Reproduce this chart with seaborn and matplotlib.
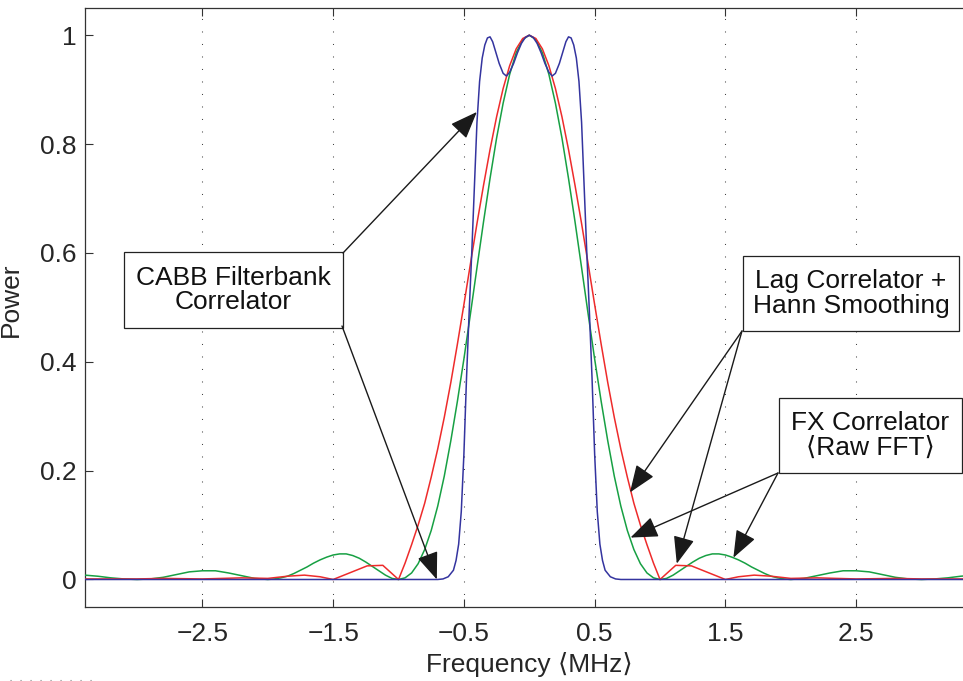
import matplotlib
matplotlib.use("Agg")
import matplotlib.pyplot as plt
import matplotlib.patches as mpatches
from matplotlib.lines import Line2D
import seaborn as sns

# FX correlator (raw FFT): frequency (MHz) and power
FX_FREQ = [-3.4, -3.3, -3.2, -3.1, -3.0, -2.9, -2.8, -2.7, -2.6, -2.5,
           -2.4, -2.3, -2.2, -2.1, -2.0,
           -1.95, -1.9, -1.85, -1.8, -1.75, -1.7, -1.65, -1.6, -1.55, -1.5,
           -1.45, -1.4, -1.35, -1.3, -1.25, -1.2, -1.15, -1.1, -1.05, -1.0,
           -0.95, -0.9, -0.85, -0.8, -0.75, -0.7, -0.65, -0.6, -0.55, -0.5,
           -0.45, -0.4, -0.35, -0.3, -0.25, -0.2, -0.15, -0.1, -0.05, 0.0,
           0.05, 0.1, 0.15, 0.2, 0.25, 0.3, 0.35, 0.4, 0.45, 0.5,
           0.55, 0.6, 0.65, 0.7, 0.75, 0.8, 0.85, 0.9, 0.95, 1.0,
           1.05, 1.1, 1.15, 1.2, 1.25, 1.3, 1.35, 1.4, 1.45, 1.5,
           1.55, 1.6, 1.65, 1.7, 1.75, 1.8, 1.85, 1.9, 1.95,
           2.0, 2.1, 2.2, 2.3, 2.4, 2.5, 2.6, 2.7, 2.8, 2.9,
           3.0, 3.1, 3.2, 3.3, 3.4]
FX_POWER = [0.008, 0.006, 0.003, 0.001, 0.000, 0.001, 0.004, 0.009, 0.014, 0.016,
            0.016, 0.012, 0.007, 0.002, 0.000,
            0.001, 0.003, 0.006, 0.011, 0.017, 0.023, 0.030, 0.036, 0.041, 0.045,
            0.047, 0.047, 0.044, 0.039, 0.032, 0.024, 0.016, 0.008, 0.002, 0.000,
            0.003, 0.012, 0.029, 0.055, 0.090, 0.135, 0.190, 0.255, 0.327, 0.405,
            0.488, 0.573, 0.657, 0.737, 0.811, 0.875, 0.928, 0.968, 0.992, 1.000,
            0.992, 0.968, 0.928, 0.875, 0.811, 0.737, 0.657, 0.573, 0.488, 0.405,
            0.327, 0.255, 0.190, 0.135, 0.090, 0.055, 0.029, 0.012, 0.003, 0.000,
            0.002, 0.008, 0.016, 0.024, 0.032, 0.039, 0.044, 0.047, 0.047, 0.045,
            0.041, 0.036, 0.030, 0.023, 0.017, 0.011, 0.006, 0.003, 0.001,
            0.000, 0.002, 0.007, 0.012, 0.016, 0.016, 0.014, 0.009, 0.004, 0.001,
            0.000, 0.001, 0.003, 0.006, 0.008]

# Lag correlator + Hann smoothing
LAG_FREQ = [-3.4, -3.0, -2.8, -2.5, -2.2, -2.0, -1.85, -1.72, -1.6, -1.5,
            -1.24, -1.12, -1.0, -0.95, -0.9, -0.85, -0.8, -0.75, -0.7, -0.65,
            -0.6, -0.55, -0.5, -0.45, -0.4, -0.35, -0.3, -0.25, -0.2, -0.15,
            -0.1, -0.05, 0.0, 0.05, 0.1, 0.15, 0.2, 0.25, 0.3, 0.35,
            0.4, 0.45, 0.5, 0.55, 0.6, 0.65, 0.7, 0.75, 0.8, 0.85,
            0.9, 0.95, 1.0, 1.12, 1.24, 1.5, 1.6, 1.72, 1.85, 2.0,
            2.2, 2.5, 2.8, 3.0, 3.4]
LAG_POWER = [0.001, 0.001, 0.002, 0.001, 0.003, 0.002, 0.006, 0.008, 0.005, 0.000,
             0.025, 0.026, 0.000, 0.030, 0.064, 0.100, 0.140, 0.188, 0.240, 0.298,
             0.362, 0.432, 0.505, 0.580, 0.654, 0.724, 0.790, 0.850, 0.902, 0.944,
             0.975, 0.994, 1.000, 0.994, 0.975, 0.944, 0.902, 0.850, 0.790, 0.724,
             0.654, 0.580, 0.505, 0.432, 0.362, 0.298, 0.240, 0.188, 0.140, 0.100,
             0.064, 0.030, 0.000, 0.026, 0.025, 0.000, 0.005, 0.008, 0.006, 0.002,
             0.003, 0.001, 0.002, 0.001, 0.001]

# CABB filterbank
CABB_FREQ = [-3.4, -0.7, -0.66, -0.62, -0.58, -0.56, -0.54, -0.52, -0.5, -0.48,
             -0.46, -0.44, -0.42, -0.4, -0.38, -0.36, -0.34, -0.32, -0.3, -0.28,
             -0.26, -0.23, -0.2, -0.175, -0.15, -0.12, -0.09, -0.06, -0.03, 0.0,
             0.03, 0.06, 0.09, 0.12, 0.15, 0.175, 0.2, 0.23, 0.26, 0.28,
             0.3, 0.32, 0.34, 0.36, 0.38, 0.4, 0.42, 0.44, 0.46, 0.48,
             0.5, 0.52, 0.54, 0.56, 0.58, 0.62, 0.66, 0.7, 3.4]
CABB_POWER = [0.0, 0.0, 0.001, 0.005, 0.017, 0.035, 0.065, 0.125, 0.23, 0.37,
              0.49, 0.60, 0.72, 0.84, 0.915, 0.958, 0.982, 0.995, 0.997, 0.988,
              0.972, 0.948, 0.93, 0.925, 0.932, 0.948, 0.968, 0.985, 0.996, 1.0,
              0.996, 0.985, 0.968, 0.948, 0.932, 0.925, 0.93, 0.948, 0.972, 0.988,
              0.997, 0.995, 0.982, 0.958, 0.915, 0.84, 0.72, 0.60, 0.49, 0.37,
              0.23, 0.125, 0.065, 0.035, 0.017, 0.005, 0.001, 0.0, 0.0]

X_TICKS = [-2.5, -1.5, -0.5, 0.5, 1.5, 2.5]
X_TICK_LABELS = ["\u22122.5", "\u22121.5", "\u22120.5", "0.5", "1.5", "2.5"]
Y_TICKS = [0, 0.2, 0.4, 0.6, 0.8, 1.0]
Y_TICK_LABELS = ["0", "0.2", "0.4", "0.6", "0.8", "1"]

sns.set_theme(style="ticks")
plt.rcParams["font.family"] = ["Liberation Sans", "DejaVu Sans"]
plt.rcParams["font.size"] = 19

W, H = 963, 681
fig = plt.figure(figsize=(W / 100, H / 100), dpi=100)
ax = fig.add_axes([84.7 / W, 1 - 606.7 / H, (W - 84.7) / W, (606.7 - 8) / H])

# grid first, curves on top
for xt in X_TICKS:
    ax.axvline(xt, color="#444444", lw=0.75, ls=(0, (1, 11)), zorder=1)

sns.lineplot(x=FX_FREQ, y=FX_POWER, color="#17a043", lw=1.1, ax=ax, zorder=3)
sns.lineplot(x=LAG_FREQ, y=LAG_POWER, color="#ee2b2b", lw=1.1, ax=ax, zorder=3)
sns.lineplot(x=CABB_FREQ, y=CABB_POWER, color="#34349f", lw=1.1, ax=ax, zorder=3)

ax.set_xlim(-3.40, 3.317)
ax.set_ylim(-0.05, 1.05)
ax.set_xticks(X_TICKS)
ax.set_xticklabels(X_TICK_LABELS)
ax.set_yticks(Y_TICKS)
ax.set_yticklabels(Y_TICK_LABELS)
ax.tick_params(direction="in", length=6, width=0.8, color="#333333",
               labelsize=19, top=True, right=False)
ax.tick_params(axis="x", pad=11)
ax.tick_params(axis="y", pad=6)
for side in ["left", "bottom", "top"]:
    ax.spines[side].set_linewidth(0.9)
    ax.spines[side].set_color("#333333")
ax.spines["right"].set_visible(False)

ax.set_xlabel("Frequency \u27e8MHz\u27e9", fontsize=19)
ax.set_ylabel("Power", fontsize=19)
ax.xaxis.set_label_coords(0.506, -0.076)
ax.yaxis.set_label_coords(-0.0705, 0.512)


def px_to_axes(px, py):
    return ((px - 84.7) / (W - 84.7), (606.7 - py) / (606.7 - 8))


def label_box(x0, y0, x1, y1, text):
    ax0, ay0 = px_to_axes(x0, y1)
    ax1, ay1 = px_to_axes(x1, y0)
    rect = mpatches.Rectangle((ax0, ay0), ax1 - ax0, ay1 - ay0,
                              transform=ax.transAxes, facecolor="white",
                              edgecolor="#222222", lw=0.9, zorder=5,
                              clip_on=False)
    ax.add_patch(rect)
    ax.text((ax0 + ax1) / 2, (ay0 + ay1) / 2, text, transform=ax.transAxes,
            ha="center", va="center", fontsize=19, linespacing=1.05,
            color="#111111", zorder=6)


def arrow(start_px, tip):
    ax.annotate("", xy=tip, xycoords="data",
                xytext=px_to_axes(*start_px), textcoords="axes fraction",
                arrowprops=dict(arrowstyle="-|>,head_length=0.85,head_width=0.33",
                                color="#1a1a1a", lw=1.0, mutation_scale=20,
                                shrinkA=0, shrinkB=0),
                zorder=7)


label_box(124, 252, 343, 328, "CABB Filterbank\nCorrelator")
label_box(743, 256, 959, 331, "Lag Correlator +\nHann Smoothing")
label_box(779, 398, 962, 473, "FX Correlator\n\u27e8Raw FFT\u27e9")

arrow((343, 253), (-0.401, 0.859))
arrow((342, 326), (-0.707, 0.0))
arrow((742, 331), (0.77, 0.16))
arrow((742, 331), (1.128, 0.029))
arrow((778, 473), (0.774, 0.077))
arrow((778, 473), (1.561, 0.040))

# faint dotted artefact at the lower-left corner of the page
fig.add_artist(Line2D([10 / W, 92 / W], [1.5 / H, 1.5 / H], transform=fig.transFigure,
                      color="#888888", lw=0.8, ls=(0, (1, 8))))

fig.savefig("out.png", dpi=100)
